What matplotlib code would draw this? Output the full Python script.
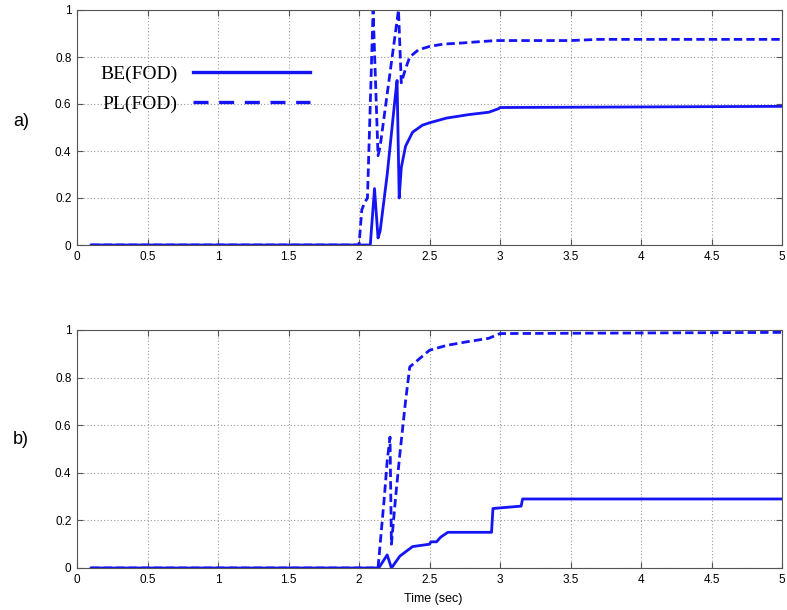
import matplotlib
matplotlib.use("Agg")
import matplotlib.pyplot as plt
from matplotlib.lines import Line2D

# Panel a data
ta_be = [0.1, 2.08, 2.11, 2.135, 2.15, 2.20, 2.255, 2.27, 2.285, 2.30, 2.33, 2.38, 2.45, 2.50, 2.62, 2.78, 2.92, 2.99, 3.0, 5.0]
va_be = [0.0, 0.0, 0.24, 0.03, 0.06, 0.30, 0.62, 0.70, 0.20, 0.33, 0.42, 0.48, 0.51, 0.52, 0.54, 0.555, 0.565, 0.58, 0.585, 0.59]
ta_pl = [0.1, 2.0, 2.02, 2.04, 2.06, 2.09, 2.10, 2.135, 2.15, 2.28, 2.30, 2.33, 2.36, 2.42, 2.50, 2.60, 2.74, 2.85, 2.97, 3.5, 3.7, 5.0]
va_pl = [0.0, 0.0, 0.15, 0.18, 0.20, 0.8, 1.0, 0.38, 0.42, 1.0, 0.69, 0.75, 0.80, 0.83, 0.845, 0.855, 0.86, 0.865, 0.87, 0.87, 0.875, 0.875]

# Panel b data
tb_be = [0.1, 2.14, 2.20, 2.23, 2.29, 2.38, 2.50, 2.51, 2.55, 2.58, 2.63, 2.94, 2.95, 3.15, 3.16, 5.0]
vb_be = [0.0, 0.0, 0.055, 0.0, 0.05, 0.09, 0.10, 0.11, 0.11, 0.13, 0.15, 0.15, 0.25, 0.26, 0.29, 0.29]
tb_pl = [0.1, 2.135, 2.18, 2.20, 2.22, 2.23, 2.26, 2.29, 2.33, 2.36, 2.41, 2.50, 2.62, 2.76, 2.92, 3.0, 5.0]
vb_pl = [0.0, 0.0, 0.30, 0.45, 0.55, 0.10, 0.30, 0.48, 0.70, 0.845, 0.87, 0.915, 0.935, 0.95, 0.965, 0.985, 0.99]

xticks = [0, 0.5, 1, 1.5, 2, 2.5, 3, 3.5, 4, 4.5, 5]
xticklabels = ["0", "0.5", "1", "1.5", "2", "2.5", "3", "3.5", "4", "4.5", "5"]
yticks = [0, 0.2, 0.4, 0.6, 0.8, 1]
yticklabels = ["0", "0.2", "0.4", "0.6", "0.8", "1"]
legend_labels = ["BE(FOD)", "PL(FOD)"]
panel_labels = ["a)", "b)"]

color = "#1414f5"
lw = 2.0
plt.rcParams['font.family'] = ['Liberation Sans', 'DejaVu Sans']

fig = plt.figure(figsize=(7.87, 6.10), dpi=100)
axa = fig.add_axes([77/787, (610-245)/610, 705/787, 235/610])
axb = fig.add_axes([77/787, (610-568)/610, 705/787, 238/610])

axa.plot(ta_be, va_be, color=color, lw=lw)
la, = axa.plot(ta_pl, va_pl, color=color, lw=lw)
la.set_dashes([3, 1.5])
axb.plot(tb_be, vb_be, color=color, lw=lw)
lb, = axb.plot(tb_pl, vb_pl, color=color, lw=lw)
lb.set_dashes([3, 1.5])

for ax in (axa, axb):
    ax.set_xlim(0, 5)
    ax.set_ylim(0, 1)
    ax.set_xticks(xticks)
    ax.set_xticklabels(xticklabels)
    ax.set_yticks(yticks)
    ax.set_yticklabels(yticklabels)
    ax.grid(True, linestyle=(0, (1, 2)), color="#9a9a9a", lw=0.8)
    ax.tick_params(direction='in', length=4, width=0.8, color="#555555", labelsize=8.5, pad=4,
                   top=True, right=True)
    for s in ax.spines.values():
        s.set_color("#555555")
        s.set_linewidth(0.8)

handles = [Line2D([], [], color=color, lw=2.4),
           Line2D([], [], color=color, lw=2.4, dashes=[4.5, 3.2])]
leg = axa.legend(handles, legend_labels, loc='upper left', bbox_to_anchor=(0.008, 0.84),
                 frameon=False, markerfirst=False, handlelength=6.0, handletextpad=0.8,
                 labelspacing=0.62, prop={'family': 'Liberation Serif', 'size': 14})

fig.text(21/787, 1-121/610, panel_labels[0], fontsize=13, ha='center', va='center')
fig.text(21/787, 1-440/610, panel_labels[1], fontsize=13, ha='center', va='center')
fig.text(433/787, 1-599/610, "Time (sec)", fontsize=9, ha='center', va='center')

fig.savefig("out.png", dpi=100)
